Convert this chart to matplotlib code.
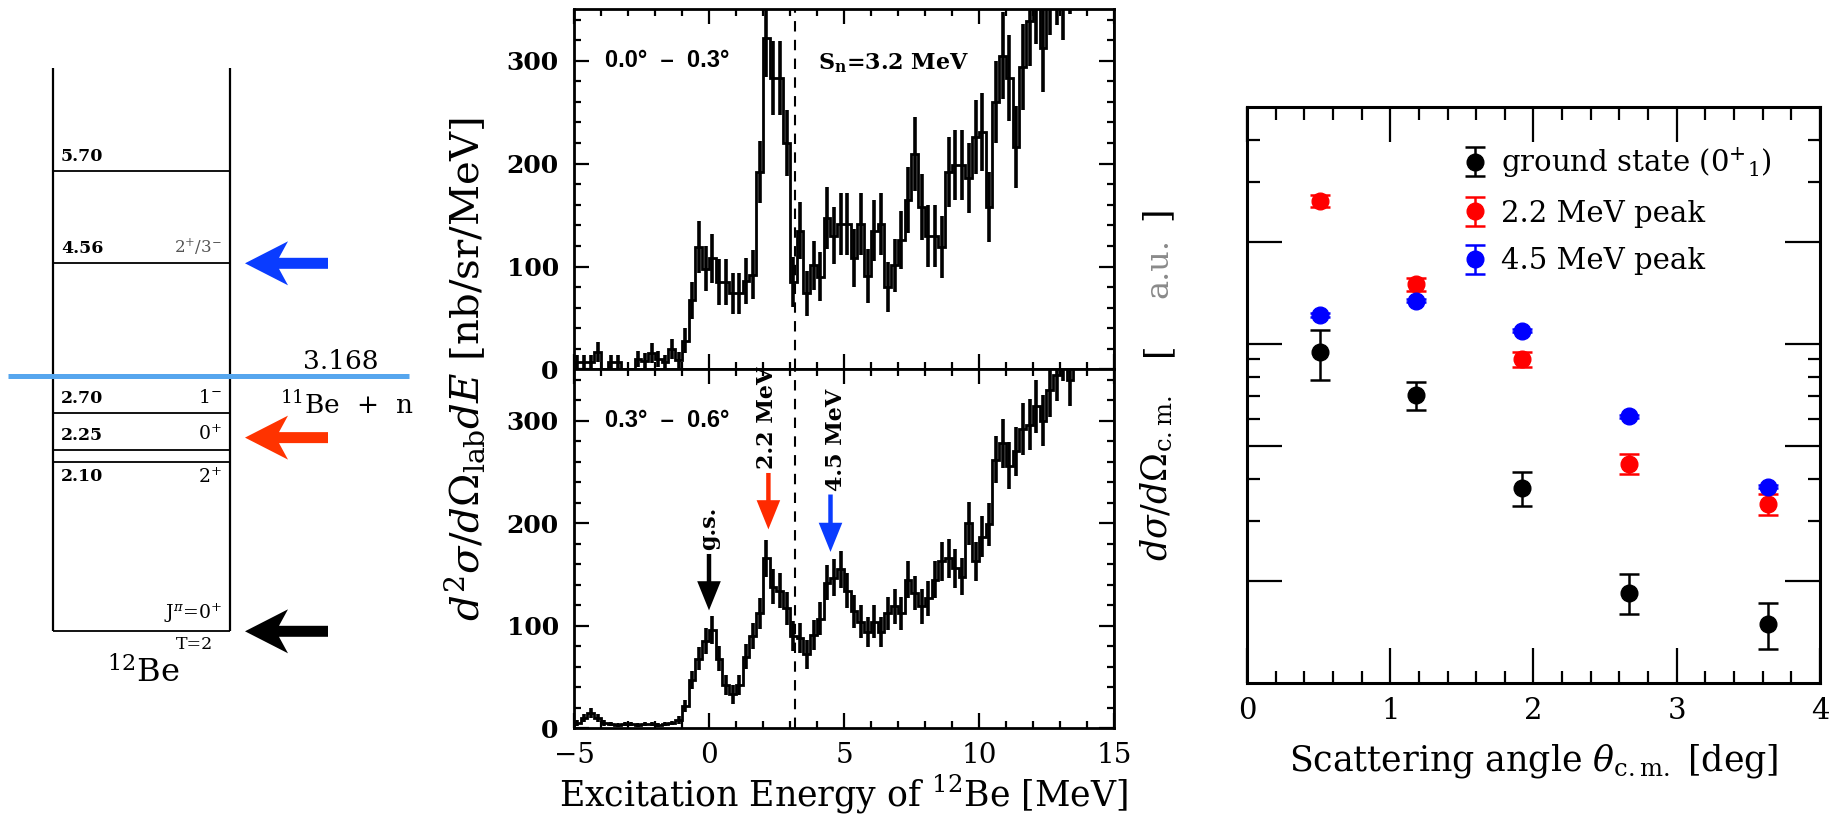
import numpy as np
import matplotlib
matplotlib.use('Agg')
import matplotlib.pyplot as plt
from matplotlib.ticker import MultipleLocator, FixedLocator, NullFormatter
from matplotlib.patches import Polygon

plt.rcParams['mathtext.fontset'] = 'dejavuserif'
plt.rcParams['font.family'] = ['DejaVu Serif']

# ---------------- data ----------------
# level scheme of 12Be (MeV)
level_energies = [5.70, 4.56, 2.70, 2.25, 2.10, 0.0]
level_labels = ['5.70', '4.56', '2.70', '2.25', '2.10', '']
level_spins = ['', r'2$^{+}$/3$^{-}$', r'1$^{-}$', r'0$^{+}$', r'2$^{+}$', r'J$^{\pi}$=0$^{+}$']
threshold_energy = 3.168
arrow_levels = [4.56, 2.40, 0.0]
arrow_colors = ['#0a3cff', '#ff3300', '#000000']

# excitation-energy spectra, 0.25 MeV bins from -5 to 15 MeV
spec_edges = np.linspace(-5.0, 15.0, 81)
spec_top = [7, 7, 7, 17, 0, 7, 7, 0, 0, 10, 8, 16, 10, 7, 20, 9,
            28, 67, 119, 98, 108, 85, 85, 74, 74, 86, 92, 192, 322, 283,
            283, 220, 85, 135, 74, 101, 90, 147, 130, 141, 141, 108, 141, 91,
            135, 141, 80, 101, 126, 165, 209, 158, 130, 130, 119, 192, 199, 199,
            186, 226, 231, 158, 260, 305, 283, 216, 294, 339, 360, 312, 370, 380,
            365, 390, 400, 410, 400, 420, 430, 440]
err_top = [7, 7, 7, 10, 0, 7, 7, 0, 0, 8, 8, 10, 8, 7, 10, 8,
           12, 18, 25, 22, 24, 22, 22, 20, 20, 22, 24, 30, 38, 36,
           36, 32, 24, 28, 22, 24, 24, 30, 28, 30, 30, 28, 30, 26,
           30, 30, 24, 26, 28, 32, 36, 32, 30, 30, 30, 34, 34, 34,
           34, 36, 38, 34, 40, 42, 42, 40, 42, 44, 44, 42, 45, 45,
           45, 45, 45, 45, 45, 45, 45, 45]
spec_bot = [5, 10, 15, 10, 5, 4, 3, 4, 4, 3, 4, 4, 3, 4, 5, 8,
            22, 47, 68, 85, 96, 68, 42, 33, 42, 70, 90, 112, 166, 138,
            134, 117, 90, 88, 72, 91, 107, 142, 147, 155, 134, 114, 104, 94,
            104, 94, 112, 119, 112, 145, 132, 119, 127, 145, 163, 166, 156, 148,
            200, 163, 187, 199, 262, 278, 256, 270, 292, 296, 314, 300, 330, 345,
            365, 340, 380, 390, 400, 410, 420, 430]
err_bot = [3, 4, 5, 4, 3, 2, 2, 2, 2, 2, 2, 2, 2, 2, 2, 4,
           6, 9, 11, 13, 14, 12, 10, 9, 10, 12, 13, 15, 18, 17,
           17, 16, 15, 15, 14, 15, 16, 17, 18, 18, 17, 16, 16, 15,
           16, 15, 16, 17, 16, 18, 17, 17, 17, 18, 19, 19, 19, 18,
           21, 19, 20, 21, 23, 24, 23, 24, 25, 25, 26, 25, 26, 26,
           26, 26, 26, 26, 26, 26, 26, 26]
sn_energy = 3.2
peak_marks = [0.0, 2.2, 4.5]
peak_names = ['g.s.', '2.2 MeV', '4.5 MeV']
peak_colors = ['#000000', '#ff2a00', '#0a3cff']

# angular distributions (arbitrary units)
theta_cm = [0.512, 1.179, 1.92, 2.667, 3.64]
gs_val = [1.89, 1.41, 0.751, 0.370, 0.2986]
gs_lo = [1.57, 1.275, 0.668, 0.319, 0.252]
gs_hi = [2.20, 1.54, 0.837, 0.419, 0.346]
p22_val = [5.27, 3.00, 1.80, 0.886, 0.675]
p22_lo = [5.07, 2.87, 1.71, 0.828, 0.625]
p22_hi = [5.48, 3.12, 1.89, 0.947, 0.722]
p45_val = [2.43, 2.68, 2.19, 1.224, 0.760]
p45_lo = [2.40, 2.65, 2.17, 1.21, 0.752]
p45_hi = [2.46, 2.71, 2.21, 1.238, 0.768]

# ---------------- figure ----------------
W, H = 1833, 815
fig = plt.figure(figsize=(W / 100, H / 100), dpi=100)


def fax(l, t, r, b):
    return fig.add_axes([l / W, 1 - b / H, (r - l) / W, (b - t) / H])


# ---- level scheme ----
PX = 80.7  # px per MeV
ax0 = fax(0, 0, 420, 815)
ax0.set_xlim(0, 420)
ax0.set_ylim((631.3 - 815) / PX, 631.3 / PX)
ax0.axis('off')
xl, xr = 52.6, 230.3
ax0.vlines([xl, xr], 0, (631.3 - 67.8) / PX, color='k', lw=1.6)
ax0.hlines(level_energies, xl, xr, color='k', lw=1.3)
ax0.hlines(threshold_energy, 8, 409, color='#56a6ee', lw=3.6, zorder=5)
for E, lab, sp in zip(level_energies, level_labels, level_spins):
    below = (lab == '2.10')
    yy = E - 6 / PX if below else E + 6 / PX
    va = 'top' if below else 'bottom'
    if lab:
        ax0.text(61, yy, lab, fontsize=12.5, fontweight='bold', ha='left', va=va)
    if sp:
        col = '#555555' if '/' in sp else 'k'
        fs = 12 if '/' in sp else 13.5
        ax0.text(222, yy, sp, fontsize=fs, ha='right', va=va, color=col)
ax0.text(195, -13 / PX, 'T=2', fontsize=12.5, ha='center', va='center')
ax0.text(143, -42 / PX, r'$^{12}$Be', fontsize=23, ha='center', va='center')
ax0.text(303, threshold_energy + 14 / PX, '3.168', fontsize=19, ha='left', va='center')
ax0.text(280, threshold_energy - 29 / PX, r'$^{11}$Be  +  n', fontsize=19, ha='left', va='center')
for E, c in zip(arrow_levels, arrow_colors):
    xt = 245
    L, Wd, n, t, Lt = 43, 22, 9, 5.5, 83
    pts = [(xt, E), (xt + L, E + Wd / PX), (xt + L - n, E + t / PX), (xt + Lt, E + t / PX),
           (xt + Lt, E - t / PX), (xt + L - n, E - t / PX), (xt + L, E - Wd / PX)]
    ax0.add_patch(Polygon(pts, closed=True, facecolor=c, edgecolor='none'))

# ---- spectra ----
def style_spec(ax):
    ax.set_xlim(-5, 15)
    ax.set_ylim(0, 350)
    ax.xaxis.set_major_locator(MultipleLocator(5))
    ax.xaxis.set_minor_locator(MultipleLocator(1))
    ax.yaxis.set_major_locator(MultipleLocator(100))
    ax.yaxis.set_minor_locator(MultipleLocator(20))
    ax.tick_params(which='both', direction='in', top=True, right=True, width=1.6)
    ax.tick_params(which='major', length=11)
    ax.tick_params(which='minor', length=5)
    for s in ax.spines.values():
        s.set_linewidth(2.0)
    ax.tick_params(axis='y', labelsize=18, pad=11)
    ax.tick_params(axis='x', labelsize=20, pad=10)
    ax.axvline(sn_energy, color='k', ls=(0, (5, 4)), lw=1.5)


centers = 0.5 * (spec_edges[:-1] + spec_edges[1:])
axT = fax(574, 9.3, 1114, 369.4)
axB = fax(574, 369.4, 1114, 728.3)
for ax, vals, errs in ((axT, spec_top, err_top), (axB, spec_bot, err_bot)):
    ax.stairs(vals, spec_edges, color='k', lw=2.0)
    ax.errorbar(centers, vals, yerr=errs, fmt='none', ecolor='k', elinewidth=2.6)
    style_spec(ax)
    for lab in ax.get_yticklabels():
        lab.set_fontweight('bold')
axT.set_xticklabels([])
axT.text(-3.85, 300, '0.0°  –  0.3°', family='Liberation Sans', fontweight='bold',
         fontsize=17, va='center')
axT.text(4.03, 298, r'$\mathbf{S_{n}}$=3.2 MeV', fontsize=16, fontweight='bold', va='center')
axB.text(-3.85, 300, '0.3°  –  0.6°', family='Liberation Sans', fontweight='bold',
         fontsize=17, va='center')

head_specs = [(170, 115), (249, 194), (228, 172)]
text_bottoms = [174, 253, 231]
text_dx = [0.0, -0.05, 0.19]
for E, name, c, (y0, y1), tb, dx in zip(peak_marks, peak_names, peak_colors, head_specs, text_bottoms, text_dx):
    axB.annotate('', xy=(E, y1), xytext=(E, y0),
                 arrowprops=dict(arrowstyle='simple,head_length=21,head_width=17,tail_width=3.2',
                                 mutation_scale=1, color=c, shrinkA=0, shrinkB=0, lw=0))
    axB.text(E + dx, tb, name, rotation=90, ha='center', va='bottom', fontsize=16, fontweight='bold')

fig.text(465 / W, 1 - 369 / H, r'$d^{2}\sigma/d\Omega_{\rm lab}dE$ [nb/sr/MeV]',
         rotation=90, ha='center', va='center', fontsize=29)
fig.text(844 / W, 1 - 806 / H, r'Excitation Energy of $^{12}$Be [MeV]',
         ha='center', va='baseline', fontsize=25)

# ---- angular distributions ----
axR = fax(1247, 106.7, 1820, 683.3)
ekw = dict(fmt='o', ms=12, capsize=7, elinewidth=1.8, capthick=1.8)
h1 = axR.errorbar(theta_cm, gs_val, yerr=[np.subtract(gs_val, gs_lo), np.subtract(gs_hi, gs_val)],
                  color='k', label=r'ground state (0$^{+}{}_{1}$)', **ekw)
h2 = axR.errorbar(theta_cm, p22_val, yerr=[np.subtract(p22_val, p22_lo), np.subtract(p22_hi, p22_val)],
                  color='#ff0000', label='2.2 MeV peak', **ekw)
h3 = axR.errorbar(theta_cm, p45_val, yerr=[np.subtract(p45_val, p45_lo), np.subtract(p45_hi, p45_val)],
                  color='#0000ff', label='4.5 MeV peak', **ekw)
axR.set_yscale('log')
axR.set_xlim(0, 4)
axR.set_ylim(0.2, 10)
axR.xaxis.set_major_locator(MultipleLocator(1))
axR.xaxis.set_minor_locator(MultipleLocator(0.2))
axR.yaxis.set_major_locator(FixedLocator([0.4, 1, 2, 4]))
axR.yaxis.set_minor_locator(FixedLocator([0.6, 0.8, 1.2, 1.4, 1.6, 1.8, 6, 8]))
axR.yaxis.set_major_formatter(NullFormatter())
axR.yaxis.set_minor_formatter(NullFormatter())
axR.tick_params(which='both', direction='in', top=True, right=True, width=1.6)
axR.tick_params(which='major', length=25)
axR.tick_params(which='minor', length=9)
axR.tick_params(axis='x', labelsize=21, pad=10)
for s in axR.spines.values():
    s.set_linewidth(2.2)
axR.set_xlabel(r'Scattering angle $\theta_{\rm c.m.}$ [deg]', fontsize=25, labelpad=12)
leg = axR.legend(handles=[h1, h2, h3], loc='upper left', bbox_to_anchor=(1434 / W, 1 - 119 / H),
                 bbox_transform=fig.transFigure, frameon=False, fontsize=21,
                 handlelength=1.0, handletextpad=0.4, labelspacing=0.68)
# y label of the angular distribution: black symbols and brackets, grey units
fig.text(1157 / W, 1 - 478 / H, r'$d\sigma/d\Omega_{\rm c.m.}$',
         rotation=90, ha='center', va='center', fontsize=25)
fig.text(1157 / W, 1 - 349 / H, '[', rotation=90, ha='center', va='center', fontsize=25)
fig.text(1159 / W, 1 - 268 / H, 'a.u.', rotation=90, ha='center', va='center',
         fontsize=23, color='#8a8a8a')
fig.text(1157 / W, 1 - 213 / H, ']', rotation=90, ha='center', va='center', fontsize=25)

fig.savefig('out.png', dpi=100)
